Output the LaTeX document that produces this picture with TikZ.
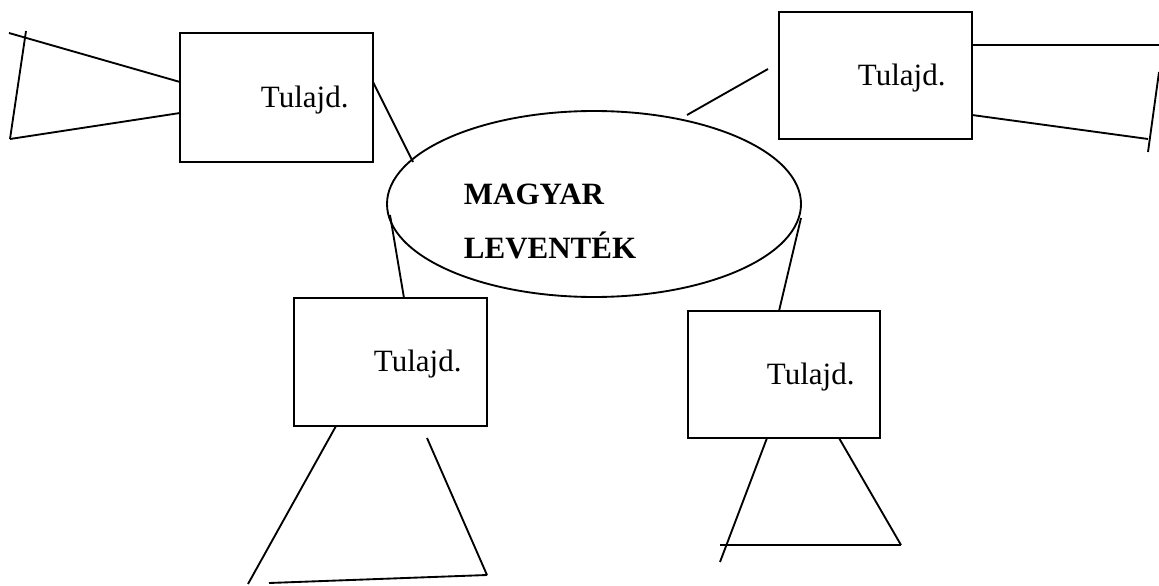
\documentclass[tikz,border=0pt]{standalone}
\usepackage{fontspec}
\setmainfont{Liberation Serif}
\usetikzlibrary{shapes.geometric,fit}
\begin{document}
\begin{tikzpicture}[x=0.75pt,y=-0.75pt,
  line width=1.4pt,
  box/.style={draw,rectangle,inner sep=0pt,line width=1.4pt},
  lbl/.style={anchor=base west,inner sep=0pt,font=\fontsize{23.25}{28}\selectfont},
  blbl/.style={anchor=base west,inner sep=0pt,font=\fontsize{23.25}{28}\selectfont\bfseries},
  edge/.style={draw,line width=1.4pt}]
\useasboundingbox (0,0) rectangle (1159,585);
% ellipse
\node[draw,ellipse,inner sep=0pt,line width=1.4pt,minimum width=310.5pt,minimum height=139.5pt] (ell) at (594,204) {};
\node[blbl] (m1) at (463,204) {MAGYAR};
\node[blbl] (m2) at (463,258) {LEVENTÉK};
% boxes
\node[box,fit={(180,33) (373,162)}] (b1) {};
\node[box,fit={(779,12) (972,139)}] (b2) {};
\node[box,fit={(294,298) (487,426)}] (b3) {};
\node[box,fit={(688,311) (880,438)}] (b4) {};
\node[lbl] (t1) at (260,107) {Tulajd.};
\node[lbl] (t2) at (857,85) {Tulajd.};
\node[lbl] (t3) at (373,371) {Tulajd.};
\node[lbl] (t4) at (766,384) {Tulajd.};
% connector end points
\coordinate (c1a) at (373,82);   \coordinate (c1b) at (413,162);
\coordinate (c2a) at (687,115);  \coordinate (c2b) at (768,69);
\coordinate (c3a) at (390,215);  \coordinate (c3b) at (404,298);
\coordinate (c4a) at (801,218);  \coordinate (c4b) at (779,311);
% connectors
\draw[edge] (c1a) -- (c1b);
\draw[edge] (c2a) -- (c2b);
\draw[edge] (c3a) -- (c3b);
\draw[edge] (c4a) -- (c4b);
% trapezoid left
\coordinate (p1) at (180,82);  \coordinate (p2) at (9,33);
\coordinate (p3) at (26,31);   \coordinate (p4) at (10,139);
\coordinate (p5) at (180,113);
\draw[edge] (p1) -- (p2);
\draw[edge] (p3) -- (p4);
\draw[edge] (p4) -- (p5);
% trapezoid right
\coordinate (q1) at (972,45);   \coordinate (q2) at (1159,45);
\coordinate (q3) at (972,115);  \coordinate (q4) at (1148,139);
\coordinate (q5) at (1159,72);  \coordinate (q6) at (1148,152);
\draw[edge] (q1) -- (q2);
\draw[edge] (q3) -- (q4);
\draw[edge] (q5) -- (q6);
% trapezoid bottom left
\coordinate (r1) at (336,426);  \coordinate (r2) at (248,584);
\coordinate (r3) at (427,438);  \coordinate (r4) at (487,575);
\coordinate (r5) at (269,583);
\draw[edge] (r1) -- (r2);
\draw[edge] (r3) -- (r4);
\draw[edge] (r4) -- (r5);
% trapezoid bottom right
\coordinate (s1) at (767,438);  \coordinate (s2) at (720,562);
\coordinate (s3) at (839,438);  \coordinate (s4) at (901,545);
\coordinate (s5) at (720,545);
\draw[edge] (s1) -- (s2);
\draw[edge] (s3) -- (s4);
\draw[edge] (s5) -- (s4);
\end{tikzpicture}
\end{document}
